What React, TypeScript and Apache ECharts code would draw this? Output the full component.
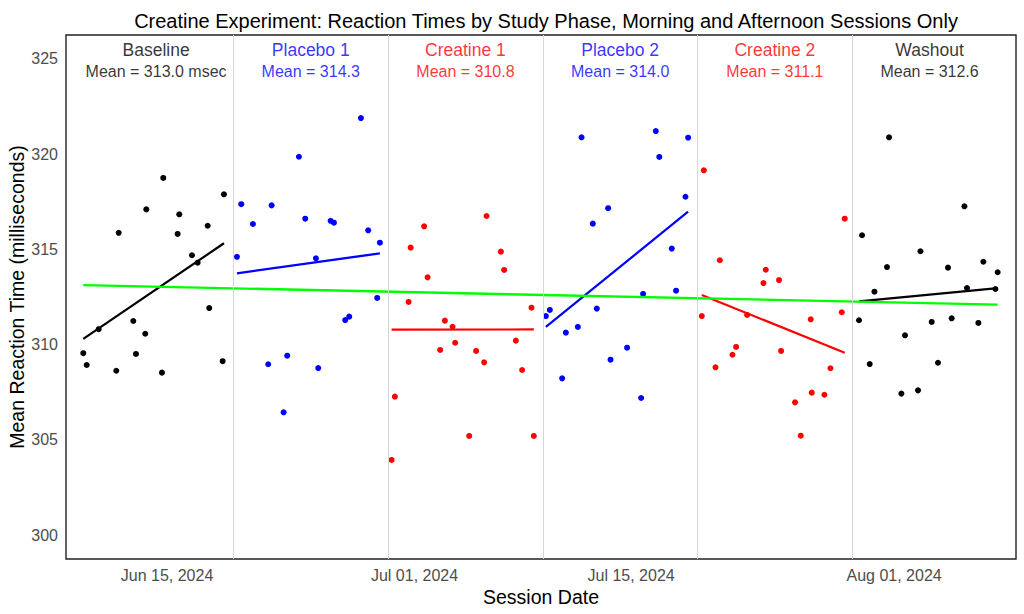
import React, { useEffect, useRef } from 'react';
import * as echarts from 'echarts';

// ---------------- DATA ----------------
const phaseNames = ['Baseline', 'Placebo 1', 'Creatine 1', 'Placebo 2', 'Creatine 2', 'Washout'];
const phaseColors = ['#000000', '#0000FF', '#FF0000', '#0000FF', '#FF0000', '#000000'];
const phaseBounds = [
  '2024-06-09 07:00', '2024-06-19 07:00', '2024-06-29 07:00', '2024-07-09 07:00',
  '2024-07-19 07:00', '2024-07-29 07:00', '2024-08-08 07:00',
];

const baselineTimes = ['2024-06-09 14:05', '2024-06-09 19:25', '2024-06-10 14:00', '2024-06-11 17:15', '2024-06-11 21:00', '2024-06-12 19:40', '2024-06-12 23:50', '2024-06-13 14:15', '2024-06-13 15:50', '2024-06-14 16:10', '2024-06-14 18:10', '2024-06-15 16:30', '2024-06-15 19:00', '2024-06-16 14:40', '2024-06-16 23:30', '2024-06-17 15:05', '2024-06-17 17:30', '2024-06-18 14:20', '2024-06-18 16:20'];
const baselineRT = [309.55, 308.93, 310.81, 308.63, 315.87, 311.24, 309.51, 310.57, 317.10, 308.53, 318.75, 315.81, 316.84, 314.69, 314.30, 316.24, 311.92, 309.13, 317.89];

const placebo1Times = ['2024-06-19 12:30', '2024-06-19 19:10', '2024-06-20 13:20', '2024-06-21 13:00', '2024-06-21 18:15', '2024-06-22 12:55', '2024-06-22 18:30', '2024-06-23 12:40', '2024-06-23 22:25', '2024-06-24 15:00', '2024-06-24 18:35', '2024-06-25 13:50', '2024-06-25 18:55', '2024-06-26 12:25', '2024-06-26 18:40', '2024-06-27 12:50', '2024-06-28 00:05', '2024-06-28 14:05', '2024-06-28 18:15'];
const placebo1RT = [314.61, 317.37, 316.33, 308.97, 317.31, 306.45, 309.42, 319.86, 316.61, 314.53, 308.77, 316.50, 316.40, 311.29, 311.47, 321.89, 316.00, 312.45, 315.35];

const creatine1Times = ['2024-06-29 12:25', '2024-06-29 17:30', '2024-06-30 14:45', '2024-06-30 17:55', '2024-07-01 14:55', '2024-07-01 20:15', '2024-07-02 15:45', '2024-07-02 23:05', '2024-07-03 11:00', '2024-07-03 15:00', '2024-07-04 12:45', '2024-07-04 23:35', '2024-07-05 12:00', '2024-07-05 15:45', '2024-07-06 13:55', '2024-07-06 19:00', '2024-07-07 13:10', '2024-07-07 22:55', '2024-07-08 13:30', '2024-07-08 17:05'];
const creatine1RT = [303.95, 307.27, 312.24, 315.09, 316.21, 313.53, 309.72, 311.26, 310.94, 310.10, 305.21, 309.67, 309.07, 316.75, 314.88, 313.92, 310.21, 308.67, 311.94, 305.21];

const placebo2Times = ['2024-07-09 11:45', '2024-07-09 17:55', '2024-07-10 13:00', '2024-07-10 18:45', '2024-07-11 13:20', '2024-07-11 19:05', '2024-07-12 12:35', '2024-07-12 18:50', '2024-07-13 12:20', '2024-07-13 16:05', '2024-07-14 17:45', '2024-07-15 15:30', '2024-07-15 18:35', '2024-07-16 14:20', '2024-07-16 19:45', '2024-07-17 15:05', '2024-07-17 21:45', '2024-07-18 12:20', '2024-07-18 16:25'];
const placebo2RT = [311.50, 311.82, 308.23, 310.63, 310.93, 320.88, 316.35, 311.89, 317.16, 309.21, 309.84, 307.20, 312.66, 321.21, 319.85, 315.04, 312.83, 317.76, 320.86];

const creatine2Times = ['2024-07-19 13:40', '2024-07-19 16:45', '2024-07-20 10:55', '2024-07-20 17:35', '2024-07-21 13:15', '2024-07-21 18:50', '2024-07-22 11:55', '2024-07-23 13:20', '2024-07-23 16:55', '2024-07-24 13:30', '2024-07-24 16:40', '2024-07-25 14:20', '2024-07-25 23:10', '2024-07-26 14:40', '2024-07-26 16:15', '2024-07-27 11:55', '2024-07-27 21:15', '2024-07-28 14:45', '2024-07-28 19:25'];
const creatine2RT = [311.50, 319.15, 308.81, 314.43, 309.47, 309.88, 311.56, 313.23, 313.93, 313.39, 309.67, 306.97, 305.22, 311.33, 307.48, 307.37, 308.76, 311.70, 316.61];

const washoutTimes = ['2024-07-29 17:35', '2024-07-29 22:15', '2024-07-30 10:10', '2024-07-30 17:30', '2024-07-31 13:00', '2024-07-31 16:10', '2024-08-01 11:20', '2024-08-01 16:55', '2024-08-02 13:05', '2024-08-02 16:50', '2024-08-03 10:20', '2024-08-03 20:05', '2024-08-04 11:35', '2024-08-04 17:20', '2024-08-05 13:05', '2024-08-05 17:05', '2024-08-06 10:45', '2024-08-06 18:30', '2024-08-07 13:10', '2024-08-07 16:40'];
const washoutRT = [311.28, 315.74, 308.98, 312.78, 314.07, 320.88, 307.43, 310.49, 307.60, 314.90, 311.19, 309.05, 314.04, 311.38, 317.26, 312.97, 311.14, 314.35, 312.92, 313.80];

const xTickDates = ['2024-06-15 00:00', '2024-07-01 00:00', '2024-07-15 00:00', '2024-08-01 00:00'];
const yTicks = [300, 305, 310, 315, 320, 325];
const xRange = ['2024-06-08 11:17', '2024-08-08 21:07'];
const yRange = [298.75, 326.25];

const titleText = 'Creatine Experiment: Reaction Times by Study Phase, Morning and Afternoon Sessions Only';
const xTitle = 'Session Date';
const yTitle = 'Mean Reaction Time (milliseconds)';

// ---------------- HELPERS ----------------
const MONTHS = ['Jan', 'Feb', 'Mar', 'Apr', 'May', 'Jun', 'Jul', 'Aug', 'Sep', 'Oct', 'Nov', 'Dec'];
function toMs(s: string): number {
  const [d, t] = s.split(' ');
  const [Y, M, D] = d.split('-').map(Number);
  const [h, m] = (t || '00:00').split(':').map(Number);
  return Date.UTC(Y, M - 1, D, h, m);
}
function fmtDate(ms: number): string {
  const d = new Date(ms);
  return `${MONTHS[d.getUTCMonth()]} ${String(d.getUTCDate()).padStart(2, '0')}, ${d.getUTCFullYear()}`;
}
function fitLine(xs: number[], ys: number[]): number[][] {
  const n = xs.length;
  const mx = xs.reduce((a, b) => a + b, 0) / n;
  const my = ys.reduce((a, b) => a + b, 0) / n;
  let sxy = 0, sxx = 0;
  for (let i = 0; i < n; i++) {
    sxy += (xs[i] - mx) * (ys[i] - my);
    sxx += (xs[i] - mx) * (xs[i] - mx);
  }
  const b = sxy / sxx;
  const a = my - b * mx;
  const x0 = Math.min(...xs), x1 = Math.max(...xs);
  return [[x0, a + b * x0], [x1, a + b * x1]];
}

const FONT = '"Liberation Sans", Arial, sans-serif';

export default function App() {
  const ref = useRef<HTMLDivElement>(null);
  useEffect(() => {
    if (!ref.current) return;
    const chart = echarts.init(ref.current, null, { renderer: 'svg' });

    const phaseTimes = [baselineTimes, placebo1Times, creatine1Times, placebo2Times, creatine2Times, washoutTimes];
    const phaseRT = [baselineRT, placebo1RT, creatine1RT, placebo2RT, creatine2RT, washoutRT];
    const boundsMs = phaseBounds.map(toMs);

    const series: any[] = [];
    const allX: number[] = [];
    const allY: number[] = [];

    // separators
    series.push({
      type: 'line',
      data: [],
      silent: true,
      z: 1,
      markLine: {
        silent: true,
        symbol: ['none', 'none'],
        label: { show: false },
        lineStyle: { color: '#d6d6d6', width: 1, type: 'solid' },
        data: boundsMs.slice(1, -1).map((b) => ({ xAxis: b })),
      },
    });

    const labelData: any[] = [];
    phaseNames.forEach((name, i) => {
      const xs = phaseTimes[i].map(toMs);
      const ys = phaseRT[i];
      xs.forEach((x, k) => { allX.push(x); allY.push(ys[k]); });
      series.push({
        type: 'scatter',
        name,
        data: xs.map((x, k) => [x, ys[k]]),
        symbolSize: 6,
        itemStyle: { color: phaseColors[i], opacity: 1 },
        z: 2,
      });
      series.push({
        type: 'line',
        data: fitLine(xs, ys),
        showSymbol: false,
        lineStyle: { color: phaseColors[i], width: 2.2 },
        z: 3,
      });
      const mean = ys.reduce((a, b) => a + b, 0) / ys.length;
      const cx = (boundsMs[i] + boundsMs[i + 1]) / 2;
      labelData.push({
        value: [cx, 325.45],
        label: { formatter: name, fontSize: 17.5, color: phaseColors[i] },
      });
      labelData.push({
        value: [cx, 324.33],
        label: { formatter: `Mean = ${mean.toFixed(1)}${i === 0 ? ' msec' : ''}`, fontSize: 16, color: phaseColors[i] },
      });
    });

    series.push({
      type: 'line',
      data: fitLine(allX, allY),
      showSymbol: false,
      lineStyle: { color: '#00FF00', width: 2.4 },
      z: 4,
    });

    series.push({
      type: 'scatter',
      data: labelData,
      symbolSize: 1,
      itemStyle: { color: 'rgba(0,0,0,0)' },
      silent: true,
      z: 5,
      label: {
        show: true,
        position: 'inside',
        align: 'center',
        verticalAlign: 'middle',
        fontFamily: FONT,
      },
    });

    chart.setOption({
      animation: false,
      textStyle: { fontFamily: FONT },
      title: {
        text: titleText,
        left: 541,
        textAlign: 'center',
        top: 6,
        textStyle: { fontFamily: FONT, fontSize: 20, fontWeight: 'normal', color: '#000' },
      },
      grid: {
        left: 66, right: 8, top: 35, bottom: 55,
        containLabel: false,
        outerBoundsMode: 'none',
        show: true, borderColor: '#222', borderWidth: 1.4, backgroundColor: '#fff',
      },
      xAxis: {
        type: 'value',
        min: toMs(xRange[0]),
        max: toMs(xRange[1]),
        name: xTitle,
        nameLocation: 'middle',
        nameGap: 28,
        nameMoveOverlap: false,
        nameTextStyle: { fontFamily: FONT, fontSize: 19.5, color: '#000' },
        axisLine: { show: false },
        axisTick: { show: false },
        splitLine: { show: false },
        axisLabel: {
          customValues: xTickDates.map(toMs),
          formatter: (v: number) => fmtDate(v),
          fontFamily: FONT, fontSize: 16, color: '#4D4D4D', margin: 8,
        },
      },
      yAxis: {
        type: 'value',
        min: yRange[0],
        max: yRange[1],
        name: yTitle,
        nameLocation: 'middle',
        nameGap: 39,
        nameMoveOverlap: false,
        nameTextStyle: { fontFamily: FONT, fontSize: 19.5, color: '#000' },
        axisLine: { show: false },
        axisTick: { show: false },
        splitLine: { show: false },
        axisLabel: {
          customValues: yTicks,
          formatter: (v: number) => String(v),
          fontFamily: FONT, fontSize: 16, color: '#4D4D4D', margin: 8,
        },
      },
      series,
    });
    return () => chart.dispose();
  }, []);
  return <div ref={ref} style={{ position: 'fixed', left: 0, top: 0, width: 1024, height: 614, background: '#fff' }} />;
}
